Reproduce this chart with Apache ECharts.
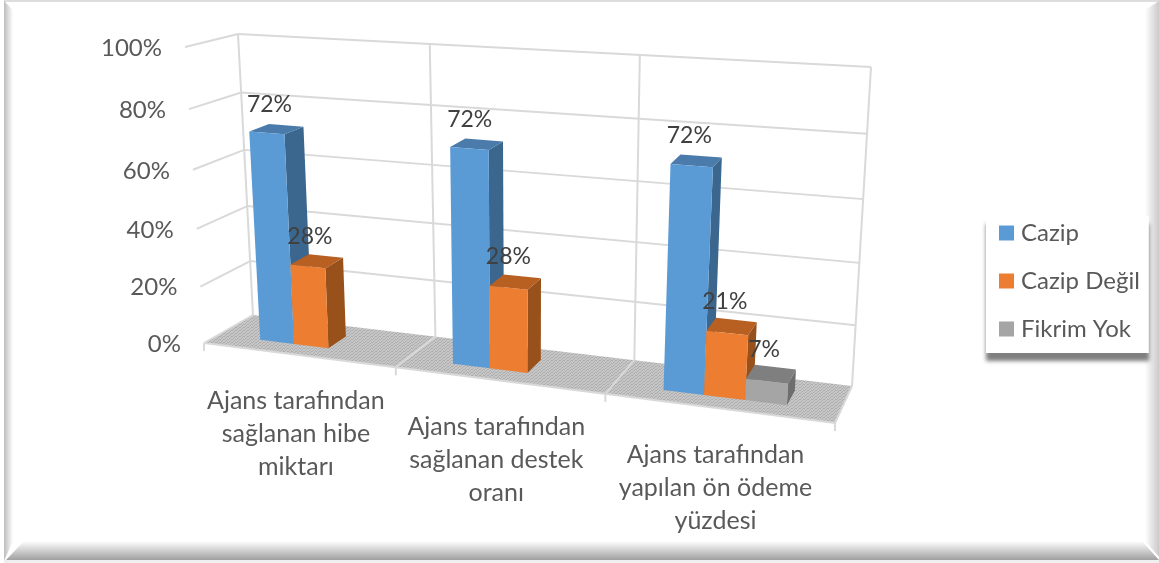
<!DOCTYPE html>
<html><head><meta charset="utf-8">
<style>html,body{margin:0;padding:0;background:#fff}#c{width:1159px;height:563px}</style>
<script src="https://cdn.jsdelivr.net/npm/echarts@6/dist/echarts.min.js"></script>
</head><body><div id="c"></div>
<script>
const categories = ['Ajans tarafından\nsağlanan hibe\nmiktarı','Ajans tarafından\nsağlanan destek\noranı','Ajans tarafından\nyapılan ön ödeme\nyüzdesi'];
const cazip = [72, 72, 72];
const cazipDegil = [28, 28, 21];
const fikrimYok = [null, null, 7];
const yTicks = [0, 20, 40, 60, 80, 100];
const seriesNames = ['Cazip', 'Cazip Değil', 'Fikrim Yok'];

const FONT = 'Lato';
const shades = [
  {front:'#5B9BD5', top:'#4A7BAA', side:'#3B668E'},
  {front:'#ED7D31', top:'#B85F22', side:'#98511B'},
  {front:'#A5A5A5', top:'#7F7F7F', side:'#6E6E6E'}
];
const GRID = {left:200, top:50, width:640, height:300};
const BAR_W = 0.182, W_FRONT = 0.3, W_BACK = 0.7;

function homography(p){
  const [x0,y0]=p[0],[x1,y1]=p[1],[x2,y2]=p[2],[x3,y3]=p[3];
  const dx1=x1-x2,dx2=x3-x2,sx=x0-x1+x2-x3,dy1=y1-y2,dy2=y3-y2,sy=y0-y1+y2-y3;
  const den=dx1*dy2-dx2*dy1,g=(sx*dy2-dx2*sy)/den,h=(dx1*sy-sx*dy1)/den;
  const a=x1-x0+g*x1,b=x3-x0+h*x3,d=y1-y0+g*y1,e=y3-y0+h*y3;
  return (u,v)=>{const q=g*u+h*v+1;return [(a*u+b*v+x0)/q,(d*u+e*v+y0)/q];};
}
// perspective box of the 3-D plot: bottom-left, bottom-right, top-right, top-left
const frontPlane = homography([[204,343],[835,423],[859,87],[185,47]]);
const backPlane  = homography([[253,315],[852,386],[871,67],[238,34]]);
// grid pixel -> box position -> screen
function project(px,w){
  const u=(px[0]-GRID.left)/GRID.width, v=1-(px[1]-GRID.top)/GRID.height;
  const f=frontPlane(u,v), b=backPlane(u,v);
  return [f[0]+(b[0]-f[0])*w, f[1]+(b[1]-f[1])*w];
}
const pat=document.createElement('canvas');pat.width=4;pat.height=3;
(function(){const c=pat.getContext('2d');c.fillStyle='#C6C6C6';c.fillRect(0,0,4,3);c.fillStyle='#ADADAD';
  c.fillRect(0,0,1,1);c.fillRect(2,1,1,1);c.fillRect(1,2,1,1);c.fillRect(3,0,1,1);})();

const LINE={stroke:'#D9D9D9',lineWidth:2,fill:null};
function seg(a,b,z){return {type:'line',shape:{x1:a[0],y1:a[1],x2:b[0],y2:b[1]},style:LINE,z2:z||1,silent:true};}

function renderFrame(params,api){
  const t=api.value(1), n=categories.length;
  const x=i=>GRID.left+GRID.width*i/n;
  const out=[];
  const base=GRID.top+GRID.height;
  const yPx=api.coord([0,t])[1];
  const l=project([GRID.left,yPx],0), lb=project([GRID.left,yPx],1), rb=project([GRID.left+GRID.width,yPx],1);
  if(params.dataIndex===0){
    const pts=[project([x(0),base],0),project([x(n),base],0),project([x(n),base],1),project([x(0),base],1)];
    out.push({type:'polygon',shape:{points:pts},style:{fill:{image:pat,repeat:'repeat'},stroke:null},z2:0});
    out.push(seg(pts[0],pts[1],2));
    out.push(seg(pts[1],pts[2],2));
    for(let i=0;i<=n;i++){
      const a=project([x(i),base],0), b=project([x(i),base],1), c=project([x(i),GRID.top],1);
      out.push(seg(a,[a[0],a[1]+8],2));
      if(i>0&&i<n) out.push(seg(a,b,2));
      out.push(seg(b,c,1));
      if(i<n){
        const m=project([(x(i)+x(i+1))/2,base],0);
        out.push({type:'text',style:{text:categories[i],x:m[0]-2,y:m[1]+30,fill:'#595959',fontFamily:FONT,fontSize:25,lineHeight:33,align:'center',verticalAlign:'top'},z2:3});
      }
    }
  }
  if(t>0) out.push(seg(lb,rb,1));
  if(t>0) out.push(seg(l,lb,1)); else out.push(seg(l,lb,2));
  out.push({type:'text',style:{text:t+'%',x:l[0]-23,y:l[1]+1,fill:'#595959',fontFamily:FONT,fontSize:24,align:'right',verticalAlign:'middle'},z2:3});
  return {type:'group',children:out};
}

function barRenderer(s){
  const col=shades[s];
  return function(params,api){
    const val=api.value(1);
    if(val==null||isNaN(val)) return;
    const top=api.coord([api.value(0),val]), bot=api.coord([api.value(0),0]);
    const band=api.size([1,0])[0];
    const cx=top[0]+(s-1)*BAR_W*band, L=cx-BAR_W*band/2, R=cx+BAR_W*band/2;
    const P=(x,y,w)=>project([x,y],w);
    const yt=top[1], yb=bot[1];
    const poly=(pts,fill,z)=>({type:'polygon',shape:{points:pts},style:{fill:fill,stroke:null},z2:z});
    const topC=P(cx,yt,(W_FRONT+W_BACK)/2);
    return {type:'group',children:[
      poly([P(R,yb,W_FRONT),P(R,yb,W_BACK),P(R,yt,W_BACK),P(R,yt,W_FRONT)],col.side,1),
      poly([P(L,yt,W_FRONT),P(R,yt,W_FRONT),P(R,yt,W_BACK),P(L,yt,W_BACK)],col.top,1),
      poly([P(L,yb,W_FRONT),P(R,yb,W_FRONT),P(R,yt,W_FRONT),P(L,yt,W_FRONT)],col.front,2),
      {type:'text',style:{text:val+'%',x:topC[0]-7,y:topC[1]-25,fill:'#404040',fontFamily:FONT,fontSize:23,align:'center',verticalAlign:'middle'},z2:5}
    ]};
  };
}
const pairs=a=>a.map((v,i)=>[i,v]);
const barData=[cazip,cazipDegil,fikrimYok];

const grad=(x,y,x2,y2,c1,c2)=>({type:'linear',x,y,x2,y2,colorStops:[{offset:0,color:c1},{offset:1,color:c2}]});
const bevel=[
  {type:'rect',shape:{x:4,y:560,width:1155,height:3},style:{fill:'#EFEFEF'},z:-5},
  {type:'rect',shape:{x:4,y:0,width:1155,height:2},style:{fill:'#DDDDDD'},z:-3},
  {type:'polygon',shape:{points:[[4,1],[13,10],[13,541],[4,561]]},style:{fill:grad(0,0,1,0,'#BDBDBD','#FFFFFF')},z:-3},
  {type:'polygon',shape:{points:[[6,560],[24,541],[1142,541],[1159,560]]},style:{fill:grad(0,0,0,1,'#FFFFFF','#A0A0A0')},z:-3},
  {type:'polygon',shape:{points:[[1145,10],[1145,541],[1159,557],[1159,1]]},style:{fill:grad(0,0,1,0,'#FFFFFF','#CACACA')},z:-3}
];

const chart=echarts.init(document.getElementById('c'),null,{renderer:'canvas'});
chart.setOption({
  animation:false,
  backgroundColor:'#fff',
  graphic:bevel,
  grid:GRID,
  xAxis:{type:'category',data:categories,show:false},
  yAxis:{type:'value',min:0,max:100,interval:20,show:false},
  legend:{
    data:seriesNames,orient:'vertical',left:986,top:216,align:'left',
    icon:'rect',itemWidth:15,itemHeight:15,itemGap:24,
    padding:[5,9,12,13],
    backgroundColor:'#fff',shadowColor:'rgba(0,0,0,0.5)',shadowBlur:4,shadowOffsetY:8,
    textStyle:{color:'#595959',fontFamily:FONT,fontSize:24,padding:[0,0,0,2]}
  },
  series:[
    {type:'custom',name:'frame',silent:true,data:yTicks.map(t=>[0,t]),encode:{x:0,y:1},renderItem:renderFrame,z:1},
  ].concat(seriesNames.map((n,s)=>({
    type:'custom',name:n,data:pairs(barData[s]),encode:{x:0,y:1},
    itemStyle:{color:shades[s].front},renderItem:barRenderer(s),z:2+s
  })))
});
</script></body></html>
